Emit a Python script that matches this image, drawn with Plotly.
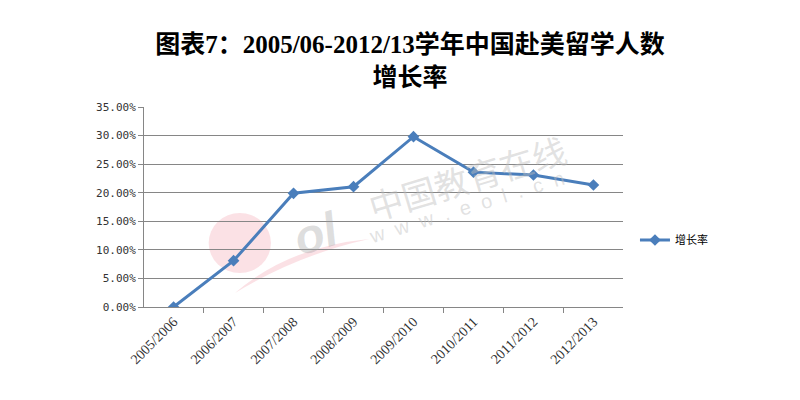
import plotly.graph_objects as go

# data
years = ["2005/2006", "2006/2007", "2007/2008", "2008/2009",
         "2009/2010", "2010/2011", "2011/2012", "2012/2013"]
growth = [0.0, 0.081, 0.199, 0.2105, 0.298, 0.236, 0.231, 0.2135]
y_ticks = [0, 0.05, 0.10, 0.15, 0.20, 0.25, 0.30, 0.35]
y_labels = ["0.00%", "5.00%", "10.00%", "15.00%", "20.00%", "25.00%", "30.00%", "35.00%"]

blue = "#4A7EBB"
wm_grey = "rgba(190,190,190,0.45)"

fig = go.Figure()
fig.add_trace(go.Scatter(
    x=years,
    y=growth,
    mode="lines+markers",
    name="增长率",
    line=dict(color=blue, width=3),
    marker=dict(symbol="diamond", size=9, color=blue),
))

# faint eol watermark behind the line
fig.add_shape(
    type="circle", xref="paper", yref="paper", layer="below",
    x0=0.135, x1=0.265, y0=0.17, y1=0.47,
    fillcolor="rgba(235,120,135,0.22)", line=dict(width=0),
)
fig.add_shape(
    type="path", xref="paper", yref="paper", layer="below",
    path="M 0.19 0.07 Q 0.30 0.30 0.47 0.34 Q 0.32 0.26 0.19 0.07 Z",
    fillcolor="rgba(235,120,135,0.22)", line=dict(width=0),
)
fig.add_annotation(
    x=0.36, y=0.37, xref="paper", yref="paper", xanchor="center", yanchor="middle",
    text="<b><i>ol</i></b>", showarrow=False, textangle=-17,
    font=dict(family="Liberation Sans", size=48, color="rgba(160,160,160,0.35)"),
)
fig.add_annotation(
    x=0.674, y=0.65, xref="paper", yref="paper", xanchor="center", yanchor="middle",
    text="中国教育在线", showarrow=False, textangle=-17,
    font=dict(family="Noto Sans CJK SC", size=34, color=wm_grey),
)
fig.add_annotation(
    x=0.674, y=0.50, xref="paper", yref="paper", xanchor="center", yanchor="middle",
    text="w  w  w  .  e  o  l  .  c  n", showarrow=False, textangle=-17,
    font=dict(family="Liberation Sans", size=20, color=wm_grey),
)

# the page body has an 8px margin, so margins are shifted by 8px
fig.update_layout(
    width=800,
    height=400,
    paper_bgcolor="white",
    plot_bgcolor="white",
    margin=dict(l=136, r=185, t=99, b=101),
    title=dict(
        text="<b>图表7：2005/06-2012/13学年中国赴美留学人数<br>增长率</b>",
        x=0.5025, xanchor="center", y=0.8875, yanchor="middle",
        font=dict(family="Liberation Serif, Noto Sans CJK SC", size=25, color="black"),
    ),
    showlegend=True,
    legend=dict(
        x=1.025, y=0.335, xanchor="left", yanchor="middle",
        font=dict(family="Noto Sans CJK SC", size=11, color="black"),
        bgcolor="rgba(0,0,0,0)",
    ),
    xaxis=dict(
        type="category",
        tickangle=-45,
        tickson="boundaries",
        ticks="outside",
        ticklen=5,
        tickcolor="#868686",
        showline=True,
        linecolor="#868686",
        showgrid=False,
        tickfont=dict(family="Liberation Serif", size=14, color="#333333"),
    ),
    yaxis=dict(
        range=[0, 0.35],
        tickvals=y_ticks,
        ticktext=y_labels,
        ticks="outside",
        ticklen=5,
        tickcolor="#868686",
        showline=True,
        linecolor="#868686",
        showgrid=True,
        gridcolor="#868686",
        gridwidth=1,
        zeroline=False,
        tickfont=dict(family="DejaVu Sans Mono", size=11, color="#333333"),
    ),
)

fig.write_html("out.html")
